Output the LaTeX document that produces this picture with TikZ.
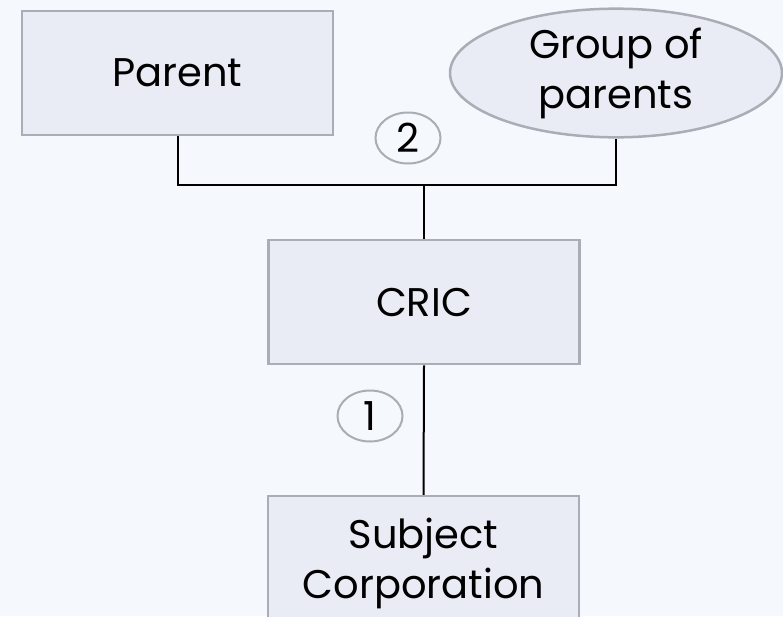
\documentclass[tikz,border=0pt]{standalone}
\usepackage{fontspec}
\setmainfont{Poppins}
\usetikzlibrary{shapes}
\definecolor{pagebg}{HTML}{F5F8FD}
\definecolor{boxfill}{HTML}{E9ECF5}
\definecolor{boxline}{HTML}{AAADB5}
\begin{document}
\begin{tikzpicture}[x=1pt,y=-1pt,
		every node/.style={font=\fontsize{40}{50}\selectfont, align=center, inner sep=0pt},
		entity/.style={rectangle, draw=boxline, fill=boxfill, line width=2.5pt,
			minimum width=311pt, minimum height=124pt},
		group/.style={ellipse, draw=boxline, fill=boxfill, line width=2.5pt,
			minimum width=332pt, minimum height=125pt},
		step no/.style={ellipse, draw=boxline, fill=pagebg, line width=2pt,
			minimum width=65pt, minimum height=51pt},
		link/.style={draw=black, line width=2pt}]
	\fill[pagebg] (0,0) rectangle (783,616);
	\useasboundingbox (0,0) rectangle (783,616);
	
	\node[entity] (parent) at (177.5,73) {Parent};
	\node[group] (grp) at (616,73) {Group of\\parents};
	\node[entity] (cric) at (424,302) {CRIC};
	\node[entity, minimum height=134pt] (subj) at (423.5,563) {Subject\\Corporation};
	\coordinate (bus) at (424,185);
	
	\draw[link] (parent.south) |- (bus) -| (grp.south);
	\draw[link] (bus) -- (cric.north);
	\draw[link] (cric.south) -- (subj.north);
	
	%step labels
	\node[step no] (s2) at (408,138) {2};
	\node[step no] (s1) at (370,416) {1};
\end{tikzpicture}
\end{document}
